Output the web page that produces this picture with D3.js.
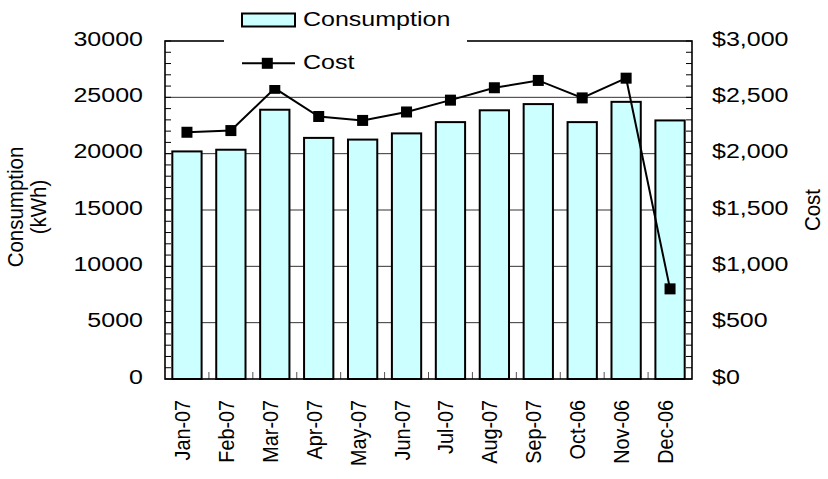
<!DOCTYPE html>
<html>
<head>
<meta charset="utf-8">
<script src="https://cdn.jsdelivr.net/npm/d3@7"></script>
<style>
  html, body { margin: 0; padding: 0; background: #fff; }
  svg { display: block; font-family: Arial, "Liberation Sans", sans-serif; }
</style>
</head>
<body>
<svg id="chart" width="828" height="479"></svg>
<script>
// Monthly electricity use and cost
const months = ["Jan-07","Feb-07","Mar-07","Apr-07","May-07","Jun-07","Jul-07","Aug-07","Sep-07","Oct-06","Nov-06","Dec-06"];
const consumption = [20200, 20350, 23900, 21400, 21250, 21800, 22800, 23850, 24400, 22800, 24600, 22950];
const cost = [2190, 2205, 2580, 2330, 2295, 2370, 2475, 2585, 2650, 2495, 2670, 800];
const kwhTicks = [0, 5000, 10000, 15000, 20000, 25000, 30000];
const costTicks = [0, 500, 1000, 1500, 2000, 2500, 3000];

const svg = d3.select("#chart");
const L = 165, R = 692, T = 41, B = 379;
const FS = 20.5, SX = 1.22;   // font size and horizontal text stretch
const RFS = 19.8, RSX = 1.1;  // rotated text size and stretch

const x = d3.scaleBand().domain(months).range([L, R]).paddingInner(1/3).paddingOuter(1/6);
const yK = d3.scaleLinear().domain([0, 30000]).range([B, T]);
const yC = d3.scaleLinear().domain([0, 3000]).range([B, T]);
const money = d3.format("$,");

// horizontal gridlines at the major consumption ticks
svg.append("g").selectAll("line").data(kwhTicks.filter(d => d > 0 && d < 30000)).join("line")
  .attr("x1", L).attr("x2", R).attr("y1", d => yK(d)).attr("y2", d => yK(d))
  .attr("stroke", "#333").attr("stroke-width", 1);

// consumption bars
svg.append("g").selectAll("rect").data(consumption).join("rect")
  .attr("x", (d, i) => x(months[i]))
  .attr("y", d => yK(d))
  .attr("width", x.bandwidth())
  .attr("height", d => yK(0) - yK(d))
  .attr("fill", "#ccffff").attr("stroke", "#000").attr("stroke-width", 2);

// cost line and markers
const cx = (d, i) => x(months[i]) + x.bandwidth() / 2;
svg.append("path").datum(cost)
  .attr("d", d3.line().x(cx).y(d => yC(d)))
  .attr("fill", "none").attr("stroke", "#000").attr("stroke-width", 2);
svg.append("g").selectAll("rect").data(cost).join("rect")
  .attr("x", (d, i) => cx(d, i) - 5.5).attr("y", d => yC(d) - 5.5)
  .attr("width", 11).attr("height", 11).attr("fill", "#000");

// inner minor ticks on both value axes
svg.append("g").selectAll("line").data(d3.range(0, 30001, 1000)).join("line")
  .attr("x1", L).attr("x2", L + 6).attr("y1", d => yK(d)).attr("y2", d => yK(d))
  .attr("stroke", "#000").attr("stroke-width", 1);
svg.append("g").selectAll("line").data(d3.range(0, 3001, 100)).join("line")
  .attr("x1", R - 6).attr("x2", R).attr("y1", d => yC(d)).attr("y2", d => yC(d))
  .attr("stroke", "#000").attr("stroke-width", 1);

// category separators on the bottom axis
svg.append("g").selectAll("line").data(months.slice(1)).join("line")
  .attr("x1", d => x(d) - x.step() * x.paddingInner() / 2)
  .attr("x2", d => x(d) - x.step() * x.paddingInner() / 2)
  .attr("y1", B).attr("y2", B - 7)
  .attr("stroke", "#555").attr("stroke-width", 1);

// plot frame
svg.append("rect").attr("x", L).attr("y", T).attr("width", R - L).attr("height", B - T)
  .attr("fill", "none").attr("stroke", "#000").attr("stroke-width", 1.6);

// text helpers: horizontal text is drawn slightly widened
const txt = (g, s, tx, ty, anchor) => g.append("text")
  .attr("transform", `translate(${tx},${ty}) scale(${SX},1)`)
  .attr("text-anchor", anchor).attr("font-size", FS).attr("fill", "#000").text(s);
const vtxt = (g, s, tx, ty, anchor, size) => g.append("text")
  .attr("transform", `translate(${tx},${ty}) scale(${RSX},1) rotate(-90)`)
  .attr("text-anchor", anchor).attr("font-size", size).attr("fill", "#000").text(s);

const labels = svg.append("g");
kwhTicks.forEach(d => txt(labels, d, 143, yK(d) + 4.7, "end"));
costTicks.forEach(d => txt(labels, money(d), 712, yC(d) + 4.7, "start"));
months.forEach(m => vtxt(labels, m, x(m) + x.bandwidth() / 2 + 3, 400, "end", RFS));

// axis titles
const titles = svg.append("g");
vtxt(titles, "Consumption", 22.5, 207, "middle", FS);
vtxt(titles, "(kWh)", 46, 207, "middle", FS);
vtxt(titles, "Cost", 820, 210, "middle", FS);

// legend
const leg = svg.append("g");
leg.append("rect").attr("x", 224).attr("y", 0).attr("width", 243).attr("height", 85).attr("fill", "#fff");
leg.append("rect").attr("x", 242).attr("y", 13.5).attr("width", 53).attr("height", 13)
  .attr("fill", "#ccffff").attr("stroke", "#000").attr("stroke-width", 2);
txt(leg, "Consumption", 303, 26, "start");
leg.append("line").attr("x1", 242).attr("x2", 295).attr("y1", 63.3).attr("y2", 63.3)
  .attr("stroke", "#000").attr("stroke-width", 2);
leg.append("rect").attr("x", 267.3 - 5.5).attr("y", 63.3 - 5.5).attr("width", 11).attr("height", 11).attr("fill", "#000");
txt(leg, "Cost", 303, 69.3, "start");
</script>
</body>
</html>
